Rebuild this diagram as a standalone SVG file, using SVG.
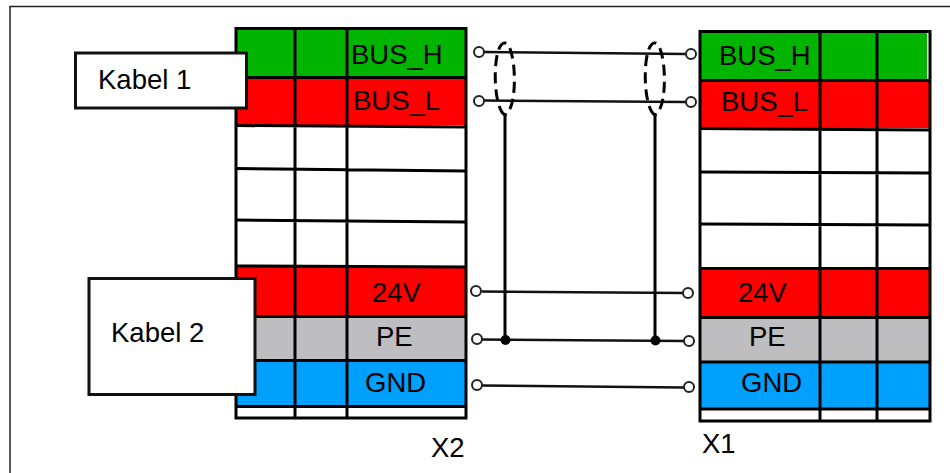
<svg xmlns="http://www.w3.org/2000/svg" width="950" height="473" viewBox="0 0 950 473">
<style>
text{font-family:"Liberation Sans",Arial,sans-serif;font-size:27.500px;fill:#000}
.g{fill:#00b400}.r{fill:#ff0000}.s{fill:#bebec0}.b{fill:#00a0ff}
.l{stroke:#000;stroke-width:3;fill:none}
.w{stroke:#111;stroke-width:2.500;fill:none}
.d{stroke:#000;stroke-width:3;fill:none;stroke-dasharray:11 6}
.t{fill:#fff;stroke:#222;stroke-width:2}
.box{fill:#fff;stroke:#111;stroke-width:3}
</style>
<rect width="950" height="473" fill="#fff"/>
<path d="M10 473V6.500H950" fill="none" stroke="#222" stroke-width="1.500"/>
<g id="X2">
<rect class="g" x="235" y="29" width="231" height="47"/>
<rect class="r" x="236" y="79" width="230" height="46"/>
<rect class="r" x="236" y="267" width="230" height="49"/>
<rect class="s" x="236" y="318" width="230" height="42"/>
<rect class="b" x="236" y="362" width="230" height="44"/>
<path class="l" d="M236 28.500H466V418H236Z"/>
<path class="l" d="M295 29V418M347 29V418M236 77.500H466M236 125.500L466 127M236 168.500L466 171M236 220L466 222M236 266L466 267M236 316.500H466M236 360.500H466M236 406.500H466"/>
<text x="351" y="64">BUS_H</text>
<text x="353" y="110">BUS_L</text>
<text x="372" y="302">24V</text>
<text x="376" y="346">PE</text>
<text x="365" y="392">GND</text>
<text x="431" y="457">X2</text>
</g>
<g id="X1">
<rect class="g" x="699" y="32" width="228" height="48"/>
<rect class="r" x="701" y="82" width="229" height="46"/>
<rect class="r" x="701" y="269" width="229" height="47"/>
<rect class="s" x="701" y="319" width="228" height="42"/>
<rect class="b" x="701" y="363" width="229" height="45"/>
<path class="l" d="M700 31.500H930V421H700Z"/>
<path class="l" d="M820 31V421M877 31V421M700 80.500H930M700 128.500L930 130M700 172L930 173M700 224L930 225M700 268.500H930M700 317.500H930M700 362H930M700 409H930"/>
<text x="719" y="65">BUS_H</text>
<text x="721" y="111">BUS_L</text>
<text x="738" y="302">24V</text>
<text x="749" y="346">PE</text>
<text x="741" y="392">GND</text>
<text x="702" y="453">X1</text>
</g>
<g id="Kabel1"><rect class="box" x="75.500" y="53" width="171" height="55"/><text x="98" y="89">Kabel 1</text></g>
<g id="Kabel2"><rect class="box" x="89" y="278.500" width="166" height="116"/><text x="111" y="342">Kabel 2</text></g>
<g id="connectors">
<path class="w" d="M484 52L686 54M484 100.500L686 102M482 291.500L684 293M482 339.500L684 341M482 385.500L684 387.500"/>
<path class="d" d="M505 115C492 108 492 42 505 43C516 44 519 108 505 115"/>
<path class="d" d="M655 115C642 108 642 42 655 43C666 44 669 108 655 115"/>
<path class="l" d="M505 113V340M655 113V340"/>
<circle cx="505.500" cy="340" r="5"/><circle cx="655.500" cy="340.500" r="5"/>
<circle class="t" cx="479" cy="52" r="5"/><circle class="t" cx="691" cy="54" r="5"/>
<circle class="t" cx="479" cy="101" r="5"/><circle class="t" cx="691" cy="102" r="5"/>
<circle class="t" cx="476" cy="291" r="5"/><circle class="t" cx="688" cy="293" r="5"/>
<circle class="t" cx="477" cy="339" r="5"/><circle class="t" cx="689" cy="341" r="5"/>
<circle class="t" cx="477" cy="385" r="5"/><circle class="t" cx="689" cy="387" r="5"/>
</g>
</svg>
